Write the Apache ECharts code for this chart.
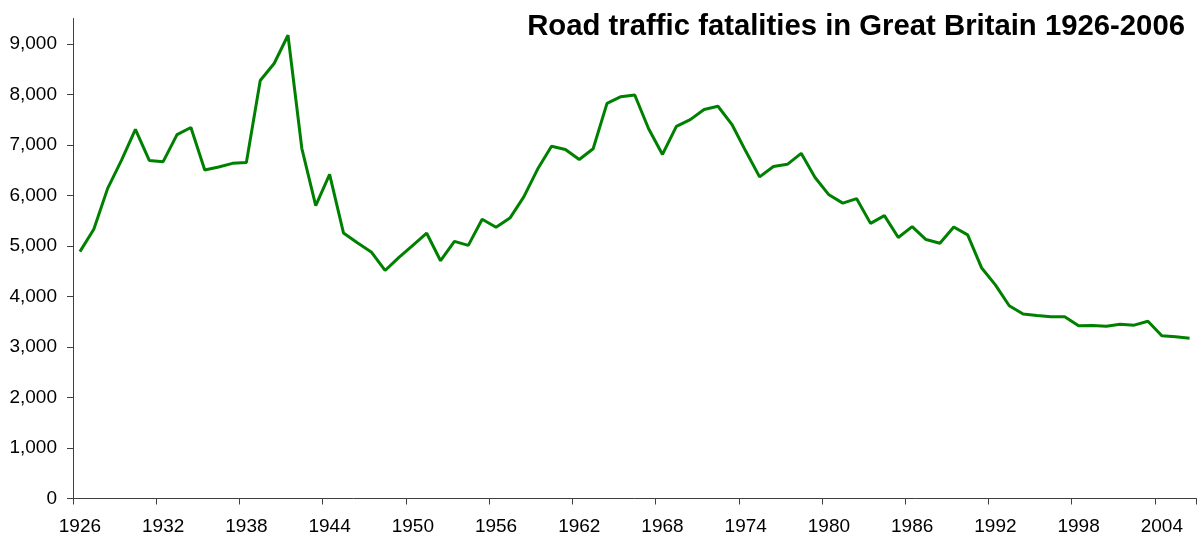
<!DOCTYPE html>
<html>
<head>
<meta charset="utf-8">
<script src="https://cdn.jsdelivr.net/npm/echarts@6/dist/echarts.min.js"></script>
<style>
html,body{margin:0;padding:0;background:#fff;}
#chart{width:1203px;height:540px;}
</style>
</head>
<body>
<div id="chart"></div>
<script>
const years = [];
for (let y = 1926; y <= 2006; y++) years.push(String(y));

const fatalities = [
  4886, 5329, 6138, 6696, 7305, 6691, 6667, 7202, 7343, 6502,
  6561, 6633, 6648, 8272, 8609, 9169, 6926, 5796, 6416, 5256,
  5062, 4881, 4513, 4773, 5012, 5250, 4706, 5090, 5010, 5526,
  5367, 5550, 5970, 6520, 6970, 6908, 6709, 6922, 7820, 7952,
  7985, 7319, 6810, 7365, 7499, 7699, 7763, 7406, 6876, 6366,
  6570, 6614, 6831, 6352, 6010, 5846, 5934, 5445, 5599, 5165,
  5382, 5125, 5052, 5373, 5217, 4568, 4229, 3814, 3650, 3621,
  3598, 3599, 3421, 3423, 3409, 3450, 3431, 3508, 3221, 3201,
  3172
];

const yTicks = [0, 1000, 2000, 3000, 4000, 5000, 6000, 7000, 8000, 9000];
const titleText = 'Road traffic fatalities in Great Britain 1926-2006';

const chart = echarts.init(document.getElementById('chart'), null, {renderer: 'canvas'});
const FONT = '"Liberation Sans", Arial, sans-serif';
const AXIS_COLOR = '#404040';

chart.setOption({
  animation: false,
  backgroundColor: '#fff',
  title: {
    text: titleText,
    right: 13,
    top: 7,
    textStyle: {fontFamily: FONT, fontSize: 29.3, fontWeight: 'bold', color: '#000'}
  },
  grid: {left: 73, right: 6.5, top: 18.5, bottom: 41.5, containLabel: false},
  xAxis: {
    type: 'category',
    data: years,
    boundaryGap: true,
    axisLine: {show: true, lineStyle: {color: AXIS_COLOR, width: 1}},
    axisTick: {show: true, interval: 5, length: 6, lineStyle: {color: AXIS_COLOR}},
    axisLabel: {interval: 5, margin: 19, fontFamily: FONT, fontSize: 19, color: '#000'},
    splitLine: {show: false}
  },
  yAxis: {
    type: 'value',
    min: 0,
    max: 9500,
    interval: 1000,
    axisLine: {show: true, lineStyle: {color: AXIS_COLOR, width: 1}},
    axisTick: {show: true, length: 6, lineStyle: {color: AXIS_COLOR}, customValues: yTicks},
    axisLabel: {
      margin: 16, fontFamily: FONT, fontSize: 19, color: '#000',
      customValues: yTicks,
      formatter: v => v.toLocaleString('en-US')
    },
    splitLine: {show: false}
  },
  series: [{
    type: 'line',
    data: fatalities,
    showSymbol: false,
    symbol: 'none',
    lineStyle: {color: '#008000', width: 3},
    itemStyle: {color: '#008000'}
  }]
});
</script>
</body>
</html>
